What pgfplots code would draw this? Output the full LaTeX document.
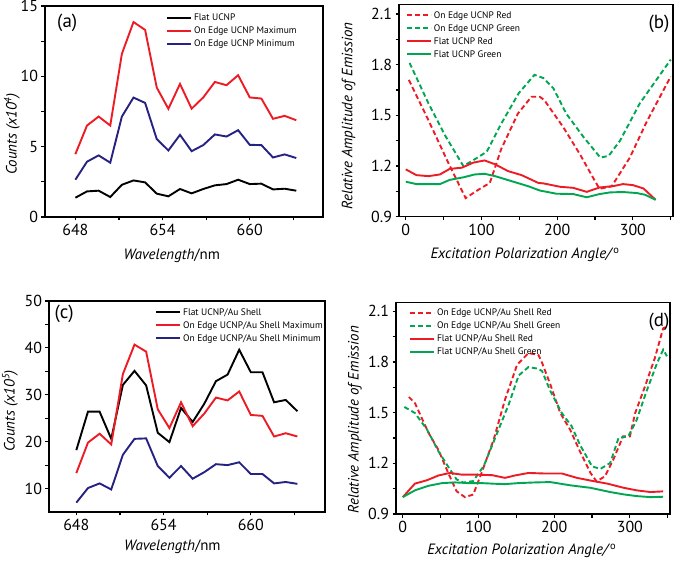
\documentclass[border=0pt]{standalone}
\usepackage{fontspec}
\setmainfont{PT Sans}
\usepackage{pgfplots}
\pgfplotsset{compat=1.18}
\definecolor{cred}{RGB}{237,28,36}
\definecolor{cblue}{RGB}{38,34,130}
\definecolor{cgreen}{RGB}{0,166,81}
\tikzset{ln/.style={line width=1.9bp}, dsh/.style={line width=1.9bp, dash pattern=on 5bp off 3bp},
 plabel/.style={font=\fontsize{19}{21}\selectfont}}
\pgfplotsset{
 panel/.style={
  scale only axis, tick align=outside, tick pos=left,
  axis line style={line width=1.5bp},
  every tick/.append style={black, line width=1.1bp},
  major tick length=3.5bp, minor tick length=3.5bp,
  tick label style={font=\fontsize{16}{18}\selectfont},
  label style={font=\fontsize{15}{17}\selectfont},
  /pgf/number format/assume math mode=true,
  xlabel style={anchor=center}, ylabel style={anchor=center},
  legend style={draw=none, fill=none, anchor=north west, font=\fontsize{9.5}{10}\selectfont,
    row sep=2.3bp, nodes={inner sep=1bp, text height=7bp, text depth=1.7bp},
    /tikz/every odd column/.style={column sep=1bp}},
  legend cell align=left,
  legend image code/.code={\draw[##1, line width=2bp] (0bp,0.25bp) -- (24bp,0.25bp);},
 },
}
\begin{document}
\begin{tikzpicture}
\useasboundingbox (0bp,0bp) rectangle (675bp,561bp);
% (a)
\begin{axis}[panel, at={(45bp,344bp)}, anchor=south west, width=278bp, height=211bp,
  xmin=645.91, xmax=665.04, ymin=0, ymax=15,
  xtick={648,654,660}, minor xtick={651,657,663},
  ytick={0,5,10,15}, minor ytick={2.5,7.5,12.5},
  xlabel={\textit{Wavelength}/nm}, ylabel={\textit{Counts (x10\textsuperscript{4})}},
  xlabel style={at={(axis description cs:0.456,-0.185)}},
  ylabel style={at={(axis description cs:-0.119,0.393)}},
  legend style={at={(0.424,0.978)}}]
\addplot[black, ln] coordinates {(648.0,1.37) (648.8,1.82) (649.6,1.87) (650.4,1.42) (651.2,2.29) (652.0,2.60) (652.8,2.46) (653.6,1.66) (654.4,1.47) (655.2,1.99) (656.0,1.68) (656.8,1.99) (657.6,2.25) (658.4,2.34) (659.2,2.65) (660.0,2.34) (660.8,2.37) (661.6,1.96) (662.4,2.01) (663.2,1.87)};
\addlegendentry{Flat UCNP}
\addplot[cred, ln] coordinates {(648.0,4.47) (648.8,6.50) (649.6,7.14) (650.4,6.50) (651.2,11.60) (652.0,13.86) (652.8,13.30) (653.6,9.20) (654.4,7.69) (655.2,9.46) (656.0,7.70) (656.8,8.50) (657.6,9.60) (658.4,9.37) (659.2,10.08) (660.0,8.50) (660.8,8.42) (661.6,6.98) (662.4,7.19) (663.2,6.88)};
\addlegendentry{On Edge UCNP Maximum}
\addplot[cblue, ln] coordinates {(648.0,2.65) (648.8,3.93) (649.6,4.38) (650.4,3.86) (651.2,7.14) (652.0,8.49) (652.8,8.11) (653.6,5.54) (654.4,4.73) (655.2,5.84) (656.0,4.68) (656.8,5.11) (657.6,5.87) (658.4,5.72) (659.2,6.17) (660.0,5.13) (660.8,5.11) (661.6,4.23) (662.4,4.45) (663.2,4.19)};
\addlegendentry{On Edge UCNP Minimum}
\node[plabel] at (rel axis cs:0.08,0.922) {(a)};
\end{axis}
% (b)
\begin{axis}[panel, at={(399bp,344.3bp)}, anchor=south west, width=274bp, height=212bp,
  xmin=-9, xmax=353, ymin=0.9, ymax=2.155,
  xtick={0,100,200,300}, minor xtick={50,150,250,350},
  ytick={0.9,1.2,1.5,1.8,2.1}, minor ytick={1.05,1.35,1.65,1.95},
  yticklabel style={/pgf/number format/fixed, /pgf/number format/precision=1, /pgf/number format/fixed zerofill},
  xlabel={\textit{Excitation Polarization Angle/}\textsuperscript{o}}, ylabel={\textit{Relative Amplitude of Emission}},
  xlabel style={at={(axis description cs:0.46,-0.181)}},
  ylabel style={at={(axis description cs:-0.184,0.475)}},
  legend style={at={(0.0135,0.984)}}]
\addplot[cred, dsh] coordinates {(4,1.71) (30,1.47) (56,1.22) (79,1.01) (96,1.06) (111,1.10) (126,1.30) (148,1.51) (166,1.61) (177,1.61) (183,1.59) (208,1.43) (230,1.27) (250,1.11) (256,1.065) (272,1.08) (296,1.25) (318,1.46) (350,1.73)};
\addlegendentry{On Edge UCNP Red}
\addplot[cgreen, dsh] coordinates {(5,1.81) (30,1.57) (52,1.38) (76,1.20) (93,1.245) (107,1.285) (126,1.45) (149,1.63) (170,1.74) (182,1.72) (195,1.66) (212,1.51) (235,1.37) (257,1.25) (268,1.26) (283,1.35) (309,1.57) (350,1.83)};
\addlegendentry{On Edge UCNP Green}
\addplot[cred, ln] coordinates {(0,1.18) (14,1.146) (30,1.14) (45,1.15) (58,1.183) (74,1.19) (89,1.22) (104,1.233) (118,1.21) (135,1.17) (153,1.146) (175,1.10) (182,1.097) (204,1.077) (221,1.071) (239,1.047) (256,1.073) (274,1.081) (287,1.093) (300,1.087) (314,1.067) (330,1.0)};
\addlegendentry{Flat UCNP Red}
\addplot[cgreen, ln] coordinates {(0,1.107) (14,1.093) (45,1.093) (58,1.118) (76,1.133) (91,1.15) (104,1.154) (118,1.14) (140,1.11) (162,1.08) (177,1.055) (199,1.036) (221,1.034) (239,1.015) (256,1.034) (270,1.044) (287,1.046) (305,1.04) (316,1.03) (330,1.0)};
\addlegendentry{Flat UCNP Green}
\node[plabel] at (rel axis cs:0.949,0.912) {(b)};
\end{axis}
% (c)
\begin{axis}[panel, at={(49bp,49bp)}, anchor=south west, width=276bp, height=211bp,
  xmin=646.12, xmax=665.1, ymin=5, ymax=50,
  xtick={648,654,660}, minor xtick={651,657,663},
  ytick={10,20,30,40,50}, minor ytick={15,25,35,45},
  xlabel={\textit{Wavelength}/nm}, ylabel={\textit{Counts (x10\textsuperscript{5})}},
  xlabel style={at={(axis description cs:0.447,-0.166)}},
  ylabel style={at={(axis description cs:-0.141,0.479)}},
  legend style={at={(0.373,0.981)}}]
\addplot[black, ln] coordinates {(648.0,18.2) (648.8,26.4) (649.6,26.4) (650.4,20.6) (651.2,32.1) (652.0,35.1) (652.8,32.0) (653.6,21.9) (654.4,19.9) (655.2,27.2) (656.0,24.2) (656.8,28.1) (657.6,32.9) (658.4,34.3) (659.2,39.6) (660.0,34.8) (660.8,34.8) (661.6,28.4) (662.4,28.9) (663.2,26.5)};
\addlegendentry{Flat UCNP/Au Shell}
\addplot[cred, ln] coordinates {(648.0,13.3) (648.8,19.8) (649.6,21.7) (650.4,19.4) (651.2,34.4) (652.0,40.7) (652.8,39.2) (653.6,26.9) (654.4,22.9) (655.2,28.4) (656.0,23.3) (656.8,26.0) (657.6,29.4) (658.4,28.8) (659.2,30.7) (660.0,25.7) (660.8,25.5) (661.6,21.1) (662.4,21.8) (663.2,21.1)};
\addlegendentry{On Edge UCNP/Au Shell Maximum}
\addplot[cblue, ln] coordinates {(648.0,7.0) (648.8,10.1) (649.6,11.1) (650.4,9.8) (651.2,17.2) (652.0,20.6) (652.8,20.7) (653.6,14.8) (654.4,12.3) (655.2,14.8) (656.0,12.1) (656.8,13.5) (657.6,15.2) (658.4,15.0) (659.2,15.6) (660.0,13.1) (660.8,13.1) (661.6,11.1) (662.4,11.4) (663.2,11.0)};
\addlegendentry{On Edge UCNP/Au Shell Minimum}
\node[plabel] at (rel axis cs:0.055,0.94) {(c)};
\end{axis}
% (d)
\begin{axis}[panel, at={(396bp,47bp)}, anchor=south west, width=274bp, height=211.6bp,
  xmin=-9, xmax=353, ymin=0.9, ymax=2.153,
  xtick={0,100,200,300}, minor xtick={50,150,250,350},
  ytick={0.9,1.2,1.5,1.8,2.1}, minor ytick={1.05,1.35,1.65,1.95},
  yticklabel style={/pgf/number format/fixed, /pgf/number format/precision=1, /pgf/number format/fixed zerofill},
  xlabel={\textit{Excitation Polarization Angle/}\textsuperscript{o}}, ylabel={\textit{Relative Amplitude of Emission}},
  xlabel style={at={(axis description cs:0.459,-0.175)}},
  ylabel style={at={(axis description cs:-0.15,0.445)}},
  legend style={at={(0.036,0.984)}}]
\addplot[cred, dsh] coordinates {(8,1.593) (16,1.557) (34,1.38) (47,1.28) (60,1.143) (71,1.035) (82,1.0) (93,1.015) (104,1.143) (120,1.34) (135,1.577) (151,1.784) (166,1.853) (179,1.843) (184,1.795) (195,1.666) (208,1.498) (221,1.40) (234,1.271) (248,1.143) (256,1.093) (267,1.123) (278,1.221) (291,1.36) (300,1.36) (307,1.498) (320,1.656) (333,1.824) (344,2.0) (349,2.01)};
\addlegendentry{On Edge UCNP/Au Shell Red}
\addplot[cgreen, dsh] coordinates {(2,1.534) (16,1.498) (32,1.40) (47,1.272) (60,1.18) (71,1.105) (80,1.086) (93,1.095) (107,1.185) (122,1.35) (140,1.55) (153,1.72) (166,1.77) (179,1.76) (184,1.746) (195,1.627) (210,1.498) (223,1.42) (234,1.31) (250,1.182) (261,1.167) (274,1.202) (285,1.35) (298,1.36) (309,1.458) (322,1.627) (336,1.795) (344,1.873) (349,1.834)};
\addlegendentry{On Edge UCNP/Au Shell Green}
\addplot[cred, ln] coordinates {(0,1.0) (16,1.08) (32,1.10) (47,1.128) (62,1.143) (78,1.133) (96,1.133) (118,1.13) (135,1.114) (148,1.128) (166,1.143) (186,1.14) (210,1.14) (230,1.114) (248,1.098) (270,1.08) (292,1.055) (309,1.04) (327,1.03) (344,1.034)};
\addlegendentry{Flat UCNP/Au Shell Red}
\addplot[cgreen, ln] coordinates {(0,1.0) (16,1.04) (34,1.067) (52,1.083) (69,1.087) (87,1.083) (104,1.083) (122,1.079) (135,1.077) (153,1.083) (175,1.087) (195,1.089) (221,1.07) (248,1.055) (274,1.03) (292,1.016) (309,1.006) (327,1.0) (344,1.002)};
\addlegendentry{Flat UCNP/Au Shell Green}
\node[plabel] at (rel axis cs:0.96,0.909) {(d)};
\end{axis}
\end{tikzpicture}
\end{document}
